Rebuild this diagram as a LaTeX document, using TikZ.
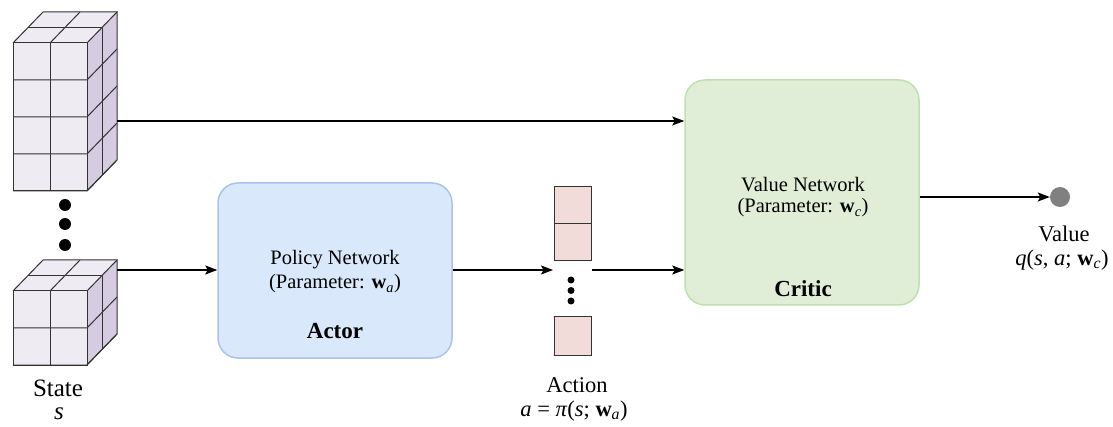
\documentclass[tikz,border=0pt]{standalone}
\usepackage{fontspec}
\setmainfont{Liberation Serif}
\usetikzlibrary{arrows.meta}

\definecolor{cubefrontc}{HTML}{EEEBF3}
\definecolor{cubesidec}{HTML}{D5CCE1}
\definecolor{actorfill}{HTML}{DAE8FC}
\definecolor{actorline}{HTML}{A9C4EB}
\definecolor{criticfill}{HTML}{E0EED8}
\definecolor{criticline}{HTML}{BFE0AE}
\definecolor{actfill}{HTML}{F2DCDA}
\definecolor{dotgray}{HTML}{808080}

\newcommand\mi[1]{\textit{#1}}
\newcommand\bw{\textbf{w}}

% a stack of cubes, two cells wide and deep; #1 = front top-left corner, #2 = rows
\newcommand\gridbox[2]{%
  \begin{scope}[shift={#1}]
    \pgfmathsetmacro\H{37*#2}
    \fill[cubefrontc] (0,0) rectangle (74,\H);
    \fill[cubesidec] (74,0) -- (104,-31) -- (104,\H-31) -- (74,\H) -- cycle;
    \fill[cubefrontc] (0,0) -- (30,-31) -- (104,-31) -- (74,0) -- cycle;
    \draw[cubeline] (0,0) rectangle (74,\H);
    \draw[cubeline] (74,0) -- (104,-31) -- (104,\H-31) -- (74,\H);
    \draw[cubeline] (0,0) -- (30,-31) -- (104,-31);
    \draw[cubeline] (37,0) -- (37,\H);
    \foreach \k in {1,...,#2} {
      \draw[cubeline] (0,37*\k) -- (74,37*\k) -- (104,37*\k-31);
    }
    \draw[cubeline] (89,-15.5) -- (89,\H-15.5);
    \draw[cubeline] (15,-15.5) -- (89,-15.5);
    \draw[cubeline] (37,0) -- (67,-31);
  \end{scope}}

\tikzset{
  cubeline/.style={draw=black!80, line width=1pt},
  flow/.style={line width=1.4pt, -{Stealth[length=12pt,width=9pt,inset=2.5pt]}},
  netbox/.style={rounded corners=20pt, line width=1.5pt, inner sep=0pt},
  label/.style={inner sep=0pt, font=\fontsize{20.5}{23}\selectfont},
  biglabel/.style={inner sep=0pt, font=\fontsize{22.5}{25}\selectfont},
  title/.style={inner sep=0pt, font=\fontsize{23}{26}\selectfont\bfseries},
  actcell/.style={draw=black!80, fill=actfill, line width=1pt, minimum width=37pt, inner sep=0pt},
  bigdot/.style={circle, fill=black, minimum size=12pt, inner sep=0pt},
  smalldot/.style={circle, fill=black, minimum size=7pt, inner sep=0pt}
}

\begin{document}
\begin{tikzpicture}[x=1pt, y=-1pt]
  \useasboundingbox (0,0) rectangle (1113,427);

  % state: a tall stack, dots, and a small stack
  \gridbox{(13,43)}{4}
  \gridbox{(13,291)}{2}
  \coordinate (tallout) at (117,121);
  \coordinate (smallout) at (117,270);
  \node[bigdot] (d1) at (65,205) {};
  \node[bigdot] (d2) at (65,224) {};
  \node[bigdot] (d3) at (65,245) {};
  \node[inner sep=0pt, font=\fontsize{25}{27}\selectfont] (statelbl) at (58,388) {State};
  \node[inner sep=0pt, font=\fontsize{25}{27}\selectfont] (statevar) at (59,414) {\mi{s}};

  % actor
  \node[netbox, draw=actorline, fill=actorfill, minimum width=234pt, minimum height=175pt]
    (actor) at (335,270.5) {};
  \node[label] (policy) at (335,260) {Policy Network};
  \node[label] (pparam) at (335,284) {(Parameter: \bw\textsubscript{\mi{a}})};
  \node[title] (actorlbl) at (335,331) {Actor};

  % critic
  \node[netbox, draw=criticline, fill=criticfill, minimum width=234pt, minimum height=225pt]
    (critic) at (802,192.5) {};
  \node[label] (valuenet) at (803,185) {Value Network};
  \node[label] (cparam) at (803,208) {(Parameter: \bw\textsubscript{\mi{c}})};
  \node[title] (criticlbl) at (803,289) {Critic};

  % action vector
  \node[actcell, minimum height=37pt] (a1) at (572.5,205.5) {};
  \node[actcell, minimum height=37pt] (a2) at (572.5,242.5) {};
  \node[actcell, minimum height=38pt] (a3) at (572.5,336) {};
  \node[smalldot] (e1) at (571,280) {};
  \node[smalldot] (e2) at (571,290.5) {};
  \node[smalldot] (e3) at (571,301) {};
  \coordinate (actin) at (553,270);
  \coordinate (actout) at (592,270);
  \node[biglabel] (actlbl) at (577,385) {Action};
  \node[biglabel] (actvar) at (574,411) {\mi{a} = \mi{π}(\mi{s}; \bw\textsubscript{\mi{a}})};

  % value output
  \node[circle, fill=dotgray, minimum size=20pt, inner sep=0pt] (value) at (1060,197) {};
  \node[biglabel] (vallbl) at (1064,234) {Value};
  \node[biglabel] (valvar) at (1062,260) {\mi{q}(\mi{s}, \mi{a}; \bw\textsubscript{\mi{c}})};

  % connectors
  \draw[flow] (tallout) -- (critic.west |- tallout);
  \draw[flow] (smallout) -- (actor.west |- smallout);
  \draw[flow] (actor.east |- actin) -- (actin);
  \draw[flow] (actout) -- (critic.west |- actout);
  \draw[flow] (critic.east |- value) -- (value.west);
\end{tikzpicture}
\end{document}
